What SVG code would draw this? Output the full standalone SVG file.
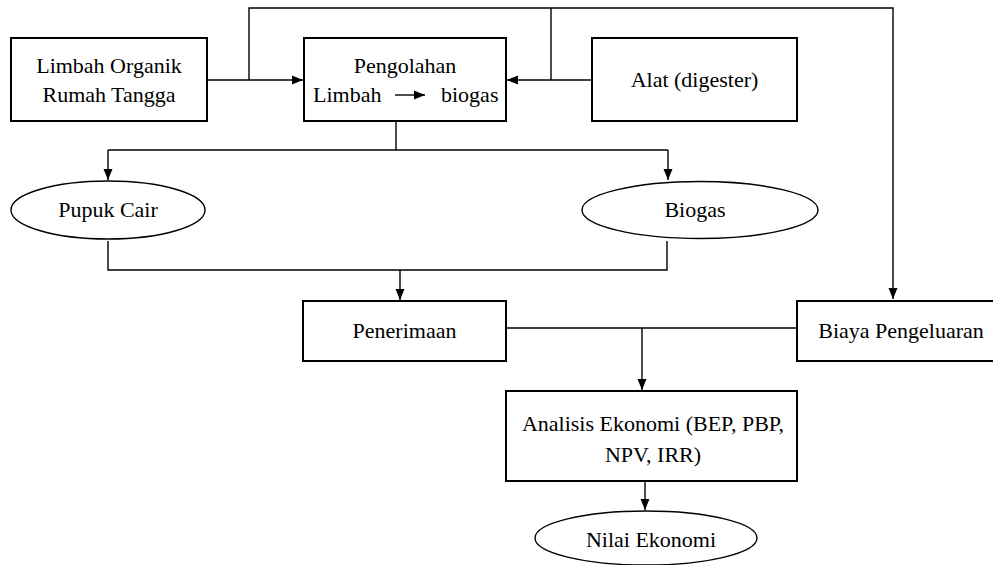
<svg xmlns="http://www.w3.org/2000/svg" width="993" height="565" viewBox="0 0 993 565">
<style>
.box{fill:#fff;stroke:#000;stroke-width:2}
.ell{fill:#fff;stroke:#000;stroke-width:1.4}
.ln{fill:none;stroke:#000;stroke-width:1.4}
.t{font-family:"Liberation Serif","Times New Roman",serif;font-size:22px;fill:#000}
.c{text-anchor:middle}
</style>
<defs>
<marker id="ah" markerUnits="userSpaceOnUse" markerWidth="12" markerHeight="10" refX="11" refY="5" orient="auto">
<path d="M0,0.5 L11,5 L0,9.5 Z" fill="#000"/>
</marker>
</defs>
<rect width="993" height="565" fill="#fff"/>
<g id="connectors">
<path class="ln" d="M249,80 V8 H893 V299" marker-end="url(#ah)"/>
<path class="ln" d="M551,8 V80"/>
<path class="ln" d="M207,80 H303" marker-end="url(#ah)"/>
<path class="ln" d="M592,80 H507" marker-end="url(#ah)"/>
<path class="ln" d="M396,121 V150"/>
<path class="ln" d="M108,150 H668"/>
<path class="ln" d="M108,150 V180" marker-end="url(#ah)"/>
<path class="ln" d="M668,150 V180" marker-end="url(#ah)"/>
<path class="ln" d="M108,241 V270 H667 V241"/>
<path class="ln" d="M400,270 V300" marker-end="url(#ah)"/>
<path class="ln" d="M506,328 H797"/>
<path class="ln" d="M642,328 V390" marker-end="url(#ah)"/>
<path class="ln" d="M645,481 V510" marker-end="url(#ah)"/>
</g>
<g id="limbah-organik">
<rect class="box" x="11" y="38" width="196" height="83"/>
<text class="t c" x="109" y="73">Limbah Organik</text>
<text class="t c" x="109" y="102">Rumah Tangga</text>
</g>
<g id="pengolahan">
<rect class="box" x="304" y="38" width="202" height="83"/>
<text class="t c" x="405" y="73">Pengolahan</text>
<text class="t" x="313" y="102">Limbah</text>
<path class="ln" d="M395,95 H425" marker-end="url(#ah)"/>
<text class="t" x="441" y="102">biogas</text>
</g>
<g id="alat">
<rect class="box" x="592" y="38" width="205" height="83"/>
<text class="t c" x="694.5" y="87">Alat (digester)</text>
</g>
<g id="pupuk-cair">
<ellipse class="ell" cx="108" cy="210" rx="97" ry="29"/>
<text class="t c" x="108" y="217">Pupuk Cair</text>
</g>
<g id="biogas">
<ellipse class="ell" cx="700" cy="210" rx="118" ry="28.5"/>
<text class="t c" x="695" y="217">Biogas</text>
</g>
<g id="penerimaan">
<rect class="box" x="303" y="301" width="203" height="60"/>
<text class="t c" x="404.5" y="338">Penerimaan</text>
</g>
<g id="biaya-pengeluaran">
<rect class="box" x="797" y="301" width="210" height="60"/>
<text class="t c" x="901" y="338">Biaya Pengeluaran</text>
</g>
<g id="analisis-ekonomi">
<rect class="box" x="506" y="391" width="291" height="90"/>
<text class="t c" x="653" y="431">Analisis Ekonomi (BEP, PBP,</text>
<text class="t c" x="653" y="462">NPV, IRR)</text>
</g>
<g id="nilai-ekonomi">
<ellipse class="ell" cx="646" cy="538" rx="111" ry="27"/>
<text class="t c" x="651" y="547">Nilai Ekonomi</text>
</g>
</svg>
